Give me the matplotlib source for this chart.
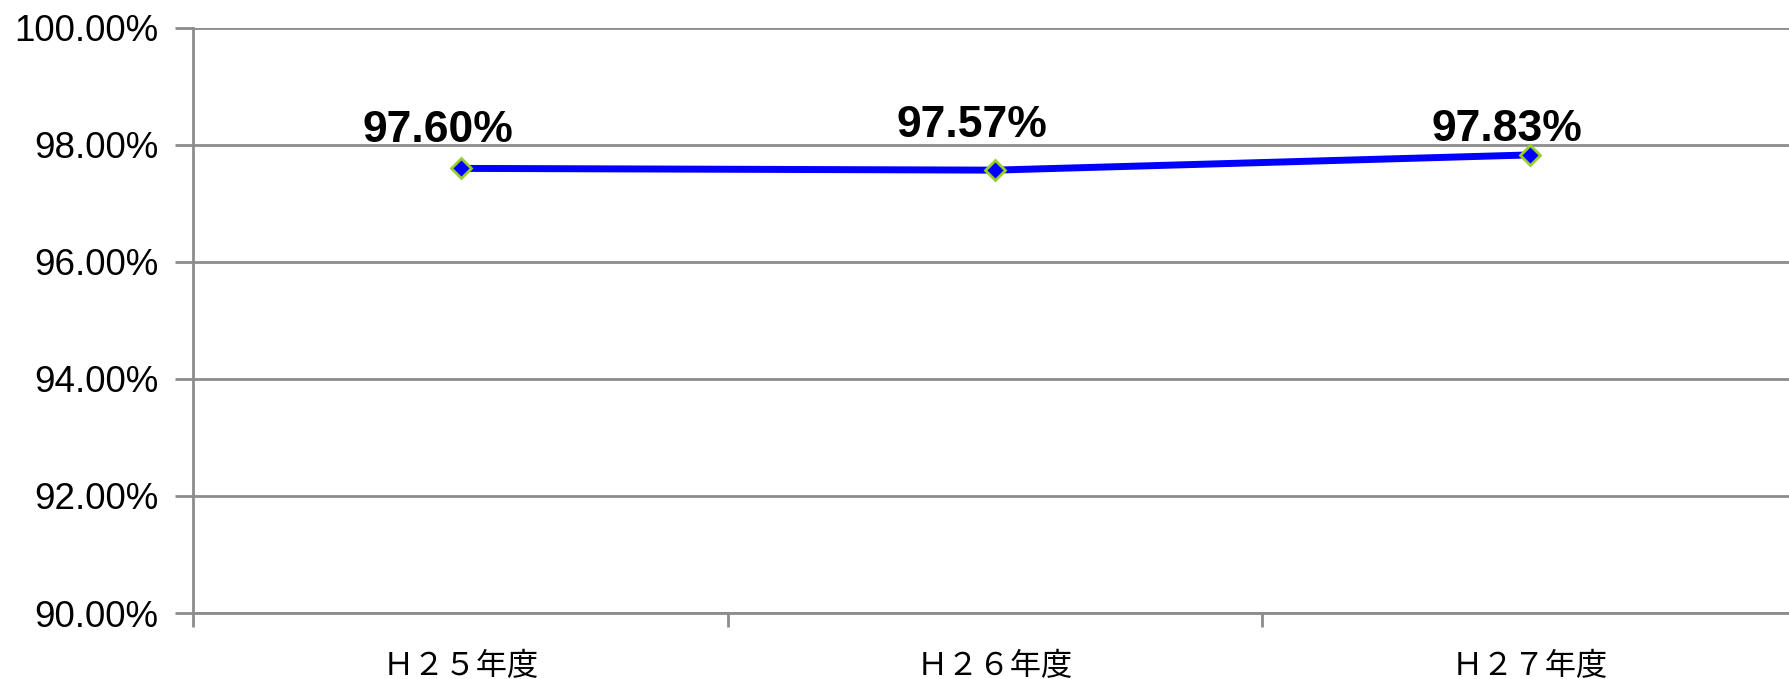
import matplotlib
matplotlib.use('Agg')
import matplotlib.pyplot as plt
from matplotlib.ticker import FixedLocator, FuncFormatter

# データ
categories = ['Ｈ２５年度', 'Ｈ２６年度', 'Ｈ２７年度']
rates = [97.60, 97.57, 97.83]
rate_labels = ['97.60%', '97.57%', '97.83%']
y_ticks = [90, 92, 94, 96, 98, 100]

# ラベルの位置ずれ (ピクセル)
label_dx = -23
label_dy = [26, 33, 14]

grid_col = '#8c8c8c'

fig = plt.figure(figsize=(17.9, 6.79), dpi=100)
ax = fig.add_axes([0.108, 0.0972, 0.8958, 0.8616])

x = list(range(len(categories)))
ax.plot(x, rates, color='#0000ff', lw=5, marker='D', ms=10,
        mfc='#0000ff', mec='#9acd32', mew=2, zorder=3)

for xi, yi, lab, dy in zip(x, rates, rate_labels, label_dy):
    ax.annotate(lab, (xi, yi), xytext=(label_dx, dy), textcoords='offset pixels',
                ha='center', va='baseline', fontsize=32, fontweight='bold',
                family=['Liberation Sans', 'DejaVu Sans'], color='black')

ax.set_xlim(-0.5, len(categories) - 0.5)
ax.set_ylim(90, 100)

# 目盛り
ax.set_yticks(y_ticks)
ax.yaxis.set_major_formatter(FuncFormatter(lambda v, p: f'{v:.2f}%'))
ax.set_xticks(x)
ax.set_xticklabels(categories, family=['Noto Sans CJK JP', 'DejaVu Sans'], fontsize=22.5)
ax.xaxis.set_minor_locator(FixedLocator([i - 0.5 for i in range(len(categories) + 1)]))
ax.tick_params(axis='x', which='major', length=0, pad=27)
ax.tick_params(axis='x', which='minor', length=10, width=2, color=grid_col)
ax.tick_params(axis='y', length=13, width=2, color=grid_col, pad=12, labelsize=26.5)
for t in ax.get_yticklabels():
    t.set_family(['Liberation Sans', 'DejaVu Sans'])

ax.grid(axis='y', color=grid_col, lw=2)
ax.set_axisbelow(True)
for s in ['top', 'right']:
    ax.spines[s].set_visible(False)
for s in ['left', 'bottom']:
    ax.spines[s].set_color(grid_col)
    ax.spines[s].set_linewidth(2)

fig.savefig('out.png', dpi=100)
